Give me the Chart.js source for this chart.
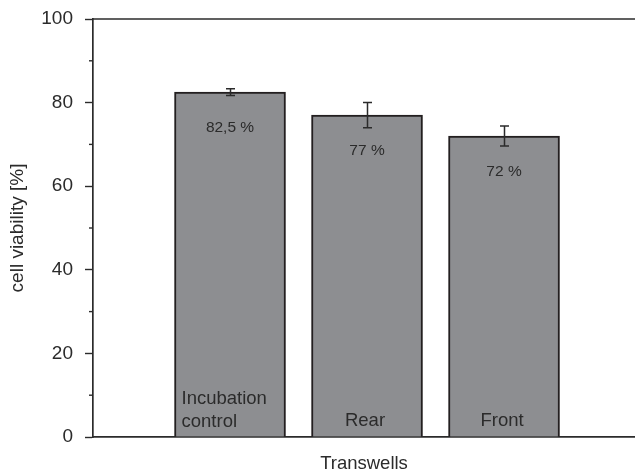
<!DOCTYPE html>
<html>
<head>
<meta charset="utf-8">
<script src="https://cdn.jsdelivr.net/npm/chart.js@4.4.1/dist/chart.umd.min.js"></script>
<style>
  html, body { margin: 0; padding: 0; background: #fff; }
  #wrap { width: 635px; height: 471px; }
</style>
</head>
<body>
<div id="wrap"><canvas id="c" width="635" height="471"></canvas></div>
<script>
// Cell viability per transwell position (mean ± error)
const categories = [["Incubation", "control"], ["Rear"], ["Front"]];
const positions = [1, 2, 3];
const viability = [82.5, 77, 72];
const viabilityErr = [0.8, 3, 2.4];
const yTicks = [0, 20, 40, 60, 80, 100];

const INK = '#2b2b2b';
const FONT = 'Liberation Sans, Arial, Helvetica, sans-serif';

function fmtValue(v) {
  return String(v).replace('.', ',') + ' %';
}

// top frame line, minor y ticks, error bars, value and category labels
const decorations = {
  id: 'decorations',
  afterDatasetsDraw(chart) {
    const { ctx, chartArea: a, scales: { x, y } } = chart;
    ctx.save();
    ctx.strokeStyle = INK;
    ctx.lineWidth = 1.7;
    ctx.beginPath();
    ctx.moveTo(a.left, a.top);
    ctx.lineTo(a.right, a.top);
    ctx.stroke();

    // minor ticks between labelled values
    ctx.lineWidth = 1.4;
    for (let v = 10; v < 100; v += 20) {
      const py = y.getPixelForValue(v);
      ctx.beginPath();
      ctx.moveTo(a.left - 4, py);
      ctx.lineTo(a.left, py);
      ctx.stroke();
    }

    // error bars
    ctx.lineWidth = 1.5;
    positions.forEach((p, i) => {
      const px = Math.round(x.getPixelForValue(p)) + 0.5;
      const top = y.getPixelForValue(viability[i] + viabilityErr[i]);
      const bot = y.getPixelForValue(viability[i] - viabilityErr[i]);
      ctx.beginPath();
      ctx.moveTo(px, top); ctx.lineTo(px, bot);
      ctx.moveTo(px - 4.5, top); ctx.lineTo(px + 4.5, top);
      ctx.moveTo(px - 4.5, bot); ctx.lineTo(px + 4.5, bot);
      ctx.stroke();
    });

    // value labels inside bars
    ctx.fillStyle = INK;
    ctx.font = '15.5px ' + FONT;
    ctx.textAlign = 'center';
    ctx.textBaseline = 'middle';
    positions.forEach((p, i) => {
      ctx.fillText(fmtValue(viability[i]), x.getPixelForValue(p), y.getPixelForValue(viability[i]) + 36);
    });

    // category names at the foot of each bar
    ctx.font = '18.5px ' + FONT;
    const meta = chart.getDatasetMeta(0);
    positions.forEach((p, i) => {
      const lines = categories[i];
      const bar = meta.data[i];
      const lastY = a.bottom - 15;
      if (lines.length > 1) {
        ctx.textAlign = 'left';
        const lx = bar.x - bar.width / 2 + 7;
        lines.forEach((t, k) => {
          ctx.fillText(t, lx, lastY - (lines.length - 1 - k) * 23.5);
        });
      } else {
        ctx.textAlign = 'center';
        ctx.fillText(lines[0], x.getPixelForValue(p) - 2, lastY - 1);
      }
    });
    ctx.restore();
  }
};

new Chart(document.getElementById('c'), {
  type: 'bar',
  data: {
    datasets: [{
      data: positions.map((p, i) => ({ x: p, y: viability[i] })),
      backgroundColor: '#8d8e91',
      borderColor: '#231f20',
      borderWidth: 2,
      borderSkipped: 'bottom',
      barThickness: 111
    }]
  },
  options: {
    responsive: false,
    animation: false,
    layout: { padding: { top: 19, right: 0, bottom: 0, left: 0 } },
    plugins: { legend: { display: false }, tooltip: { enabled: false } },
    scales: {
      x: {
        type: 'linear',
        offset: false,
        min: 0,
        max: 3.956,
        ticks: { display: false },
        grid: { display: false, drawTicks: false, offset: false },
        border: { display: true, color: INK, width: 1.7 },
        title: {
          display: true,
          text: 'Transwells',
          color: INK,
          font: { family: FONT, size: 18.5, lineHeight: 1 },
          padding: { top: 0, bottom: -2 }
        },
        afterFit(s) { s.height = 34; s.paddingLeft = 0; s.paddingRight = 0; }
      },
      y: {
        min: 0,
        max: 100,
        afterBuildTicks(s) { s.ticks = yTicks.map(v => ({ value: v })); },
        ticks: {
          color: INK,
          padding: 12,
          font: { family: FONT, size: 19 },
          callback: v => String(v)
        },
        grid: {
          drawOnChartArea: false,
          tickLength: 8,
          tickWidth: 1.4,
          tickColor: INK
        },
        border: { display: true, color: INK, width: 1.7 },
        title: {
          display: true,
          text: 'cell viability [%]',
          color: INK,
          font: { family: FONT, size: 19, lineHeight: 1 },
          padding: { top: 8, bottom: 0 }
        },
        afterFit(s) { s.width = 93; s.paddingTop = 0; s.paddingBottom = 0; }
      }
    }
  },
  plugins: [decorations]
});
</script>
</body>
</html>
